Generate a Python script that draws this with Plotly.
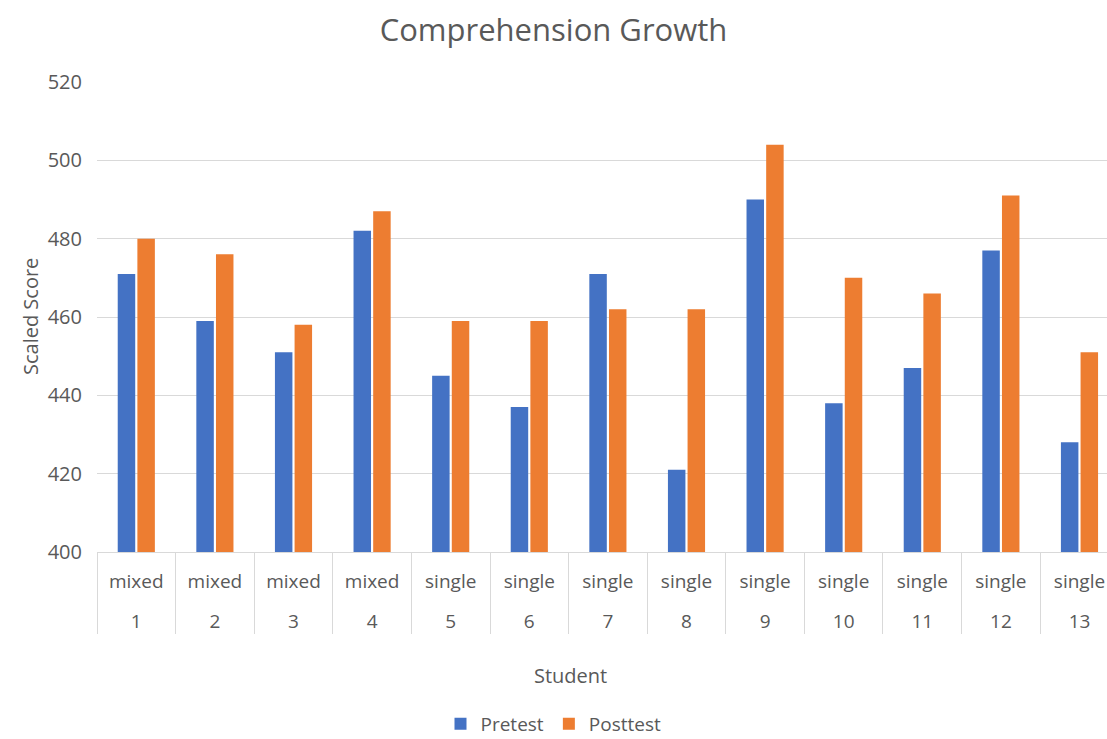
import plotly.graph_objects as go

students = ["1", "2", "3", "4", "5", "6", "7", "8", "9", "10", "11", "12", "13"]
groups = ["mixed", "mixed", "mixed", "mixed", "single", "single", "single", "single",
          "single", "single", "single", "single", "single"]
pretest = [471, 459, 451, 482, 445, 437, 471, 421, 490, 438, 447, 477, 428]
posttest = [480, 476, 458, 487, 459, 459, 462, 462, 504, 470, 466, 491, 451]

FONT = "Open Sans"
GRAY = "#595959"

# inner labels get a blank second line to widen the gap to the outer level
inner = [g + "<br><span style='font-size:18px'> </span>" for g in groups]

fig = go.Figure()
fig.add_trace(go.Bar(name="Pretest", x=[students, inner], y=pretest,
                     marker=dict(color="#4472C4", line=dict(width=0))))
fig.add_trace(go.Bar(name="Posttest", x=[students, inner], y=posttest,
                     marker=dict(color="#ED7D31", line=dict(width=0))))

fig.update_layout(
    width=1107, height=739,
    margin=dict(l=97, r=0, t=82, b=187, autoexpand=False),
    paper_bgcolor="white", plot_bgcolor="white",
    font=dict(family=FONT, color=GRAY, size=19),
    title=dict(text="Comprehension Growth", x=0.5, xref="container", xanchor="center",
               y=1 - 30 / 739, yref="container", yanchor="middle",
               font=dict(size=31, color=GRAY, family=FONT)),
    barmode="group", bargap=0.5, bargroupgap=0.11,
    showlegend=True,
    legend=dict(orientation="h", x=0.5, xref="container", xanchor="center",
                y=1 - 724 / 739, yref="container", yanchor="middle",
                font=dict(size=19, color=GRAY), itemwidth=30, traceorder="normal"),
    xaxis=dict(type="multicategory", range=[-0.5, 12.35], showdividers=True,
               dividercolor="#d9d9d9", dividerwidth=1, showline=True,
               linecolor="#d9d9d9", linewidth=1, tickfont=dict(size=19, color=GRAY),
               showgrid=False, ticks="", ticklabelstandoff=12,
               automargin=False),
    yaxis=dict(range=[400, 520], dtick=20, tick0=400, showgrid=True,
               gridcolor="#d9d9d9", gridwidth=1, zeroline=False, showline=False,
               tickfont=dict(size=20, color=GRAY), ticklabelstandoff=14,
               automargin=False),
    annotations=[
        dict(text="Scaled Score", xref="paper", yref="paper", x=(30 - 97) / 1010, y=0.5,
             textangle=-90, showarrow=False, xanchor="center", yanchor="middle",
             font=dict(size=20, color=GRAY)),
        dict(text="Student", xref="paper", yref="paper", x=(570 - 97) / 1010,
             y=(552 - 675) / 470, showarrow=False, xanchor="center", yanchor="middle",
             font=dict(size=20, color=GRAY)),
    ],
)

fig.write_html("out.html")
